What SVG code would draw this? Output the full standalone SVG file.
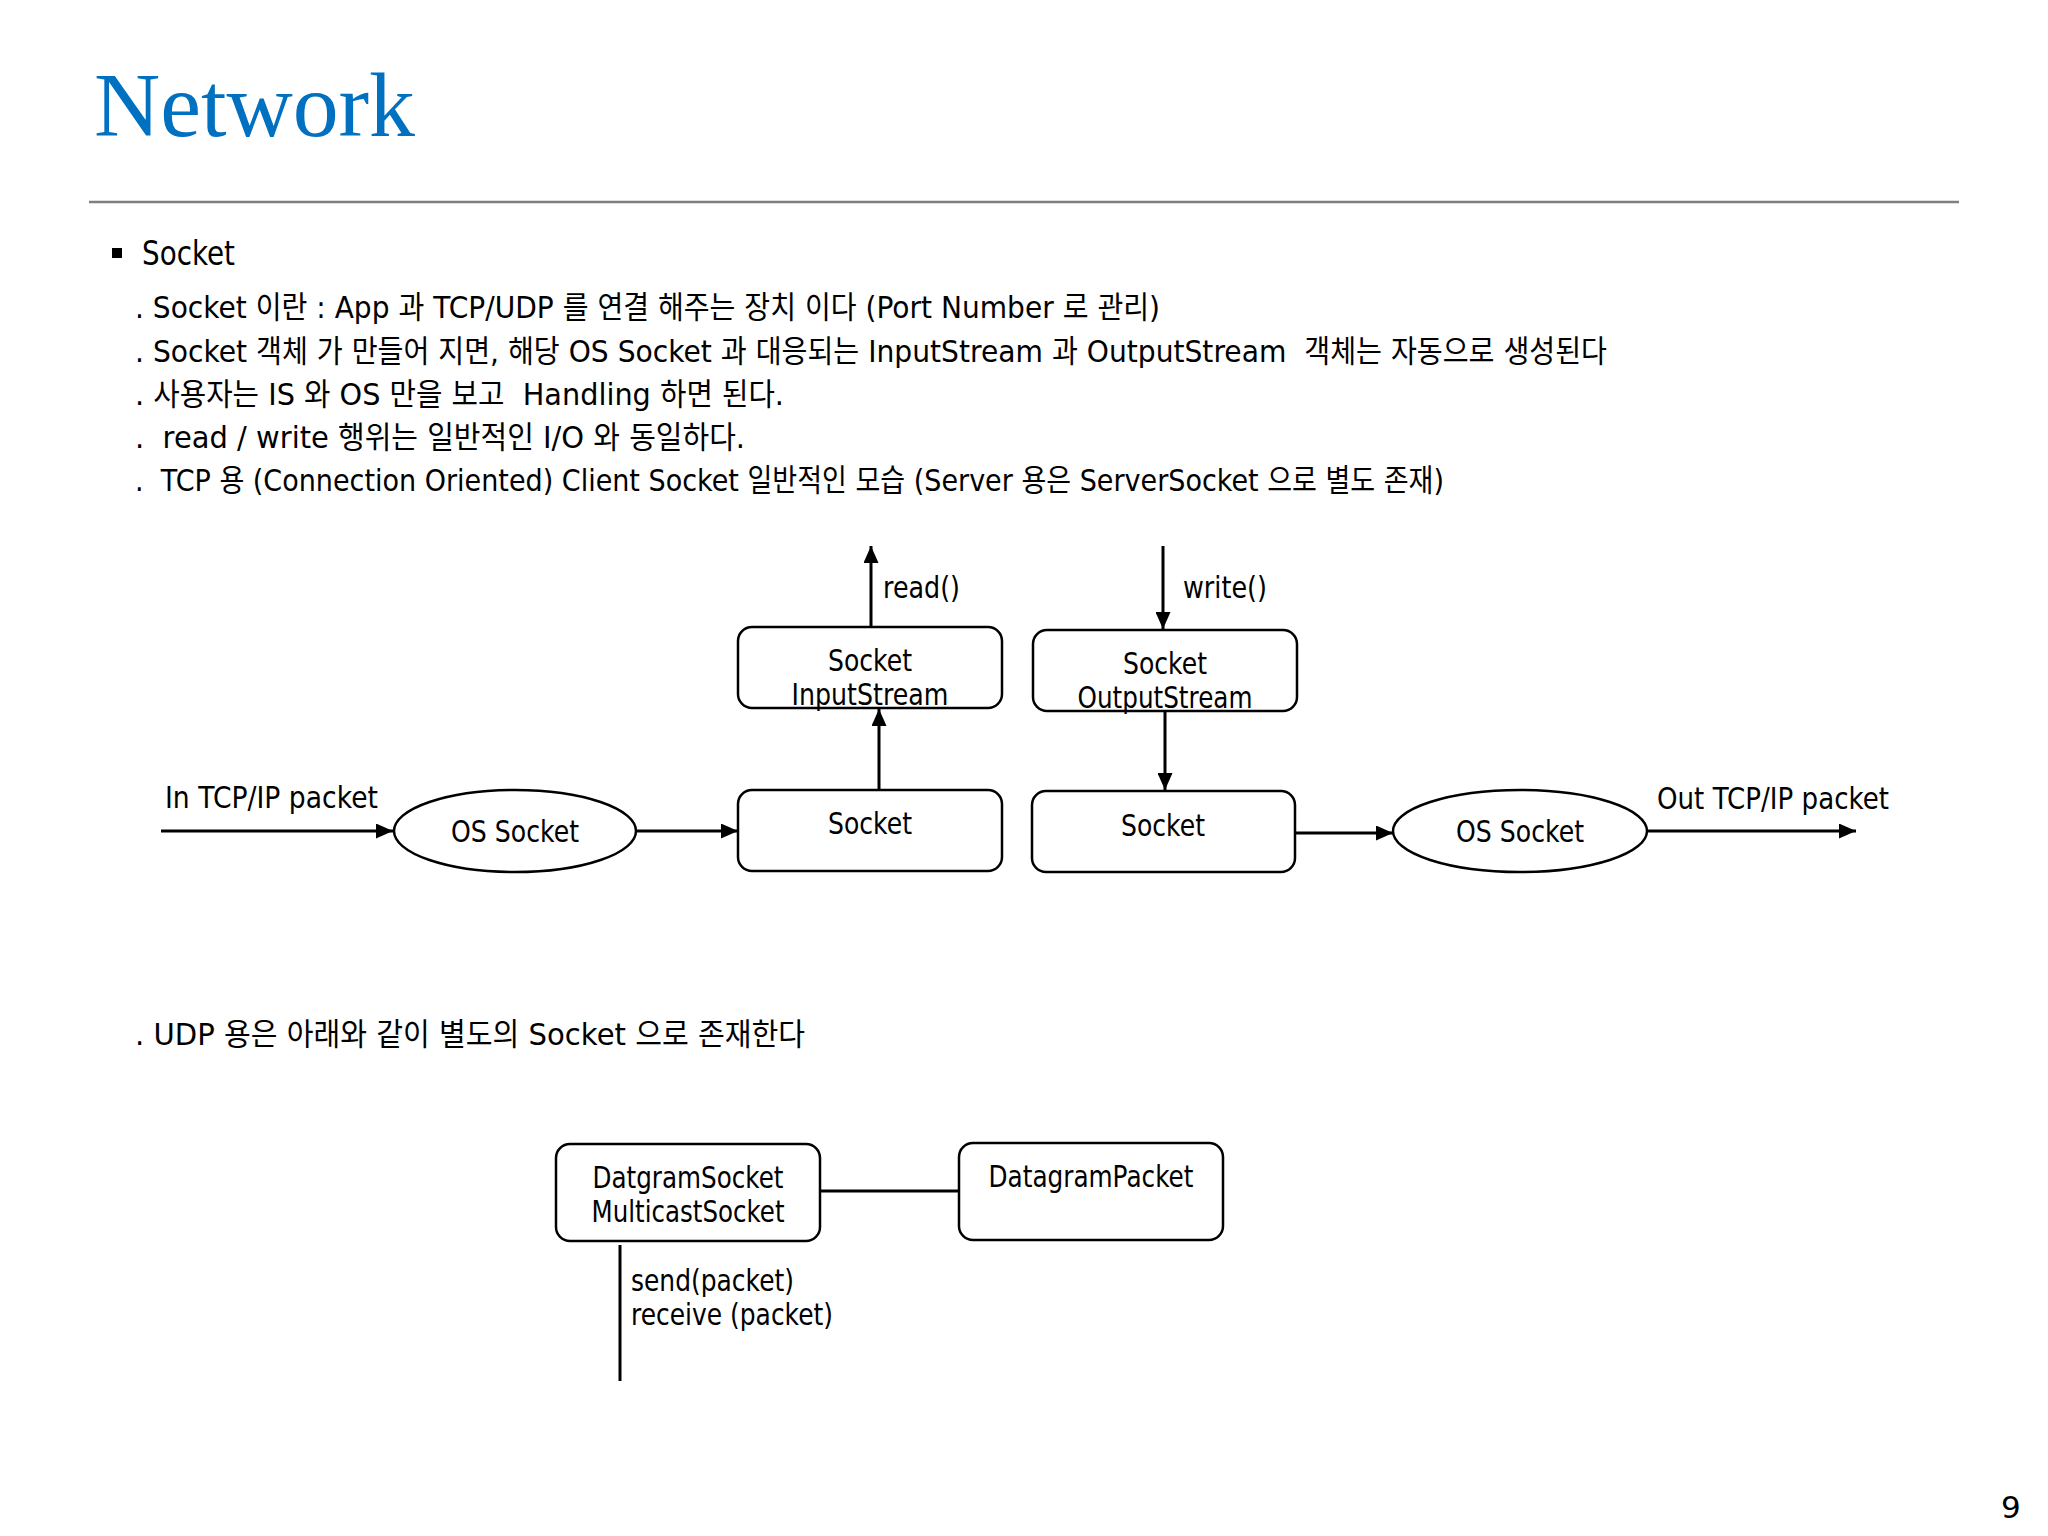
<svg xmlns="http://www.w3.org/2000/svg" width="2048" height="1536" viewBox="0 0 2048 1536">
<style>
text{white-space:pre}
.title{font-family:"Liberation Serif","Times New Roman",serif;font-size:90px;fill:#0070C0}
.t{font-family:"DejaVu Sans","Noto Sans CJK KR",sans-serif;font-size:31px;fill:#000}
.h{font-family:"DejaVu Sans","Noto Sans CJK KR",sans-serif;font-size:33px;fill:#000}
.d{font-family:"DejaVu Sans","Noto Sans CJK KR",sans-serif;font-size:31px;fill:#000;text-anchor:middle}
.dl{font-family:"DejaVu Sans","Noto Sans CJK KR",sans-serif;font-size:31px;fill:#000}
.box{fill:#fff;stroke:#000;stroke-width:2.5}
.c{fill:none;stroke:#000;stroke-width:3}
</style>
<defs>
<marker id="ah" viewBox="0 0 17 15" refX="17" refY="7.5" markerWidth="17" markerHeight="15" markerUnits="userSpaceOnUse" orient="auto">
<path d="M0,0 L17,7.5 L0,15 z" fill="#000"/>
</marker>
</defs>
<rect width="2048" height="1536" fill="#fff"/>
<text class="title" x="94" y="136" textLength="321" lengthAdjust="spacingAndGlyphs">Network</text>
<line x1="89" y1="202" x2="1959" y2="202" stroke="#7f7f7f" stroke-width="2.5"/>
<rect x="112" y="248" width="10" height="10" fill="#000"/>
<text class="h" x="142" y="265" textLength="93" lengthAdjust="spacingAndGlyphs">Socket</text>
<text class="t" x="135" y="318" textLength="1025" lengthAdjust="spacingAndGlyphs">. Socket 이란 : App 과 TCP/UDP 를 연결 해주는 장치 이다 (Port Number 로 관리)</text>
<text class="t" x="135" y="362" textLength="1472" lengthAdjust="spacingAndGlyphs">. Socket 객체 가 만들어 지면, 해당 OS Socket 과 대응되는 InputStream 과 OutputStream  객체는 자동으로 생성된다</text>
<text class="t" x="135" y="405" textLength="649" lengthAdjust="spacingAndGlyphs">. 사용자는 IS 와 OS 만을 보고  Handling 하면 된다.</text>
<text class="t" x="135" y="448" textLength="610" lengthAdjust="spacingAndGlyphs">.  read / write 행위는 일반적인 I/O 와 동일하다.</text>
<text class="t" x="135" y="491" textLength="1309" lengthAdjust="spacingAndGlyphs">.  TCP 용 (Connection Oriented) Client Socket 일반적인 모습 (Server 용은 ServerSocket 으로 별도 존재)</text>
<text class="t" x="135" y="1045" textLength="670" lengthAdjust="spacingAndGlyphs">. UDP 용은 아래와 같이 별도의 Socket 으로 존재한다</text>

<g id="connectors">
<line class="c" x1="871" y1="627" x2="871" y2="546" marker-end="url(#ah)"/>
<line class="c" x1="1163" y1="546" x2="1163" y2="629" marker-end="url(#ah)"/>
<line class="c" x1="879" y1="790" x2="879" y2="709" marker-end="url(#ah)"/>
<line class="c" x1="1165" y1="711" x2="1165" y2="790" marker-end="url(#ah)"/>
<line class="c" x1="161" y1="831" x2="393" y2="831" marker-end="url(#ah)"/>
<line class="c" x1="636" y1="831" x2="738" y2="831" marker-end="url(#ah)"/>
<line class="c" x1="1295" y1="833" x2="1393" y2="833" marker-end="url(#ah)"/>
<line class="c" x1="1647" y1="831" x2="1856" y2="831" marker-end="url(#ah)"/>
<line class="c" x1="820" y1="1191" x2="959" y2="1191"/>
<line class="c" x1="620" y1="1245" x2="620" y2="1381"/>
</g>
<g id="labels">
<text class="dl" x="883" y="598" textLength="77" lengthAdjust="spacingAndGlyphs">read()</text>
<text class="dl" x="1183" y="598" textLength="84" lengthAdjust="spacingAndGlyphs">write()</text>
<text class="dl" x="165" y="808" textLength="213" lengthAdjust="spacingAndGlyphs">In TCP/IP packet</text>
<text class="dl" x="1657" y="809" textLength="232" lengthAdjust="spacingAndGlyphs">Out TCP/IP packet</text>
<text class="dl" x="631" y="1291" textLength="163" lengthAdjust="spacingAndGlyphs">send(packet)</text>
<text class="dl" x="631" y="1325" textLength="202" lengthAdjust="spacingAndGlyphs">receive (packet)</text>
</g>
<g id="n-inputstream">
<rect class="box" x="738" y="627" width="264" height="81" rx="14"/>
<text class="d" x="870" y="671" textLength="84" lengthAdjust="spacingAndGlyphs">Socket</text>
<text class="d" x="870" y="705" textLength="157" lengthAdjust="spacingAndGlyphs">InputStream</text>
</g>
<g id="n-outputstream">
<rect class="box" x="1033" y="630" width="264" height="81" rx="14"/>
<text class="d" x="1165" y="674" textLength="84" lengthAdjust="spacingAndGlyphs">Socket</text>
<text class="d" x="1165" y="708" textLength="175" lengthAdjust="spacingAndGlyphs">OutputStream</text>
</g>
<g id="n-socket-left">
<rect class="box" x="738" y="790" width="264" height="81" rx="14"/>
<text class="d" x="870" y="834" textLength="84" lengthAdjust="spacingAndGlyphs">Socket</text>
</g>
<g id="n-socket-right">
<rect class="box" x="1032" y="791" width="263" height="81" rx="14"/>
<text class="d" x="1163" y="836" textLength="84" lengthAdjust="spacingAndGlyphs">Socket</text>
</g>
<g id="n-ossocket-left">
<ellipse class="box" cx="515" cy="831" rx="121" ry="41"/>
<text class="d" x="515" y="842" textLength="128" lengthAdjust="spacingAndGlyphs">OS Socket</text>
</g>
<g id="n-ossocket-right">
<ellipse class="box" cx="1520" cy="831" rx="127" ry="41"/>
<text class="d" x="1520" y="842" textLength="128" lengthAdjust="spacingAndGlyphs">OS Socket</text>
</g>
<g id="n-datagramsocket">
<rect class="box" x="556" y="1144" width="264" height="97" rx="14"/>
<text class="d" x="688" y="1188" textLength="191" lengthAdjust="spacingAndGlyphs">DatgramSocket</text>
<text class="d" x="688" y="1222" textLength="193" lengthAdjust="spacingAndGlyphs">MulticastSocket</text>
</g>
<g id="n-datagrampacket">
<rect class="box" x="959" y="1143" width="264" height="97" rx="14"/>
<text class="d" x="1091" y="1187" textLength="205" lengthAdjust="spacingAndGlyphs">DatagramPacket</text>
</g>
<text class="dl" x="2001" y="1518" font-size="32">9</text>
</svg>
